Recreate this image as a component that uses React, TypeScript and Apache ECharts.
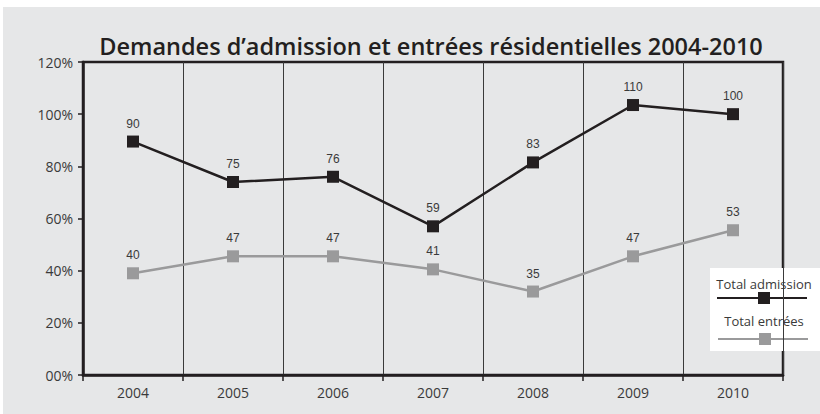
import React, { useEffect, useRef } from "react";
import * as echarts from "echarts";

const years = ["2004", "2005", "2006", "2007", "2008", "2009", "2010"];
const admissionPct = [89.5, 74, 76, 57, 81.5, 103.5, 100];
const admissionLabels = [90, 75, 76, 59, 83, 110, 100];
const entreesPct = [39, 45.5, 45.5, 40.5, 32, 45.5, 55.5];
const entreesLabels = [40, 47, 47, 41, 35, 47, 53];
const yTicks = [0, 20, 40, 60, 80, 100, 120];

const BLACK = "#231f20";
const GREY = "#9a9a9b";
const BG = "#e6e7e8";
const FONT = "'Open Sans', sans-serif";

export default function App() {
  const ref = useRef<HTMLDivElement>(null);
  useEffect(() => {
    if (!ref.current) return;
    const chart = echarts.init(ref.current, undefined, { renderer: "svg" });
    const labelStyle = {
      show: true,
      position: "top" as const,
      distance: 6,
      color: "#3a3a3a",
      fontSize: 12,
      fontFamily: "Liberation Sans, Arial, sans-serif",
    };
    chart.setOption({
      animation: false,
      backgroundColor: "#ffffff",
      title: {
        text: "Demandes d\u2019admission et entrées résidentielles 2004-2010",
        left: "426",
        textAlign: "center",
        top: 29,
        textStyle: {
          fontFamily: FONT,
          fontWeight: 600,
          fontSize: 23.5,
          color: BLACK,
        },
      },
      graphic: [
        {
          type: "rect",
          z: -10,
          silent: true,
          shape: { x: 3, y: 7, width: 817, height: 407 },
          style: { fill: BG },
        },
        {
          type: "group",
          z: 100,
          children: [
            { type: "rect", shape: { x: 710, y: 268, width: 110, height: 83 }, style: { fill: "#ffffff" } },
            {
              type: "text",
              x: 764,
              y: 284,
              style: { text: "Total admission", fill: "#3a3a3a", font: `13px ${FONT}`, align: "center", verticalAlign: "middle" },
            },
            { type: "line", shape: { x1: 717, y1: 298, x2: 807, y2: 298 }, style: { stroke: BLACK, lineWidth: 2 } },
            { type: "rect", shape: { x: 758, y: 292, width: 12, height: 12 }, style: { fill: BLACK } },
            {
              type: "text",
              x: 764,
              y: 321,
              style: { text: "Total entrées", fill: "#3a3a3a", font: `13px ${FONT}`, align: "center", verticalAlign: "middle" },
            },
            { type: "line", shape: { x1: 718, y1: 339, x2: 808, y2: 339 }, style: { stroke: GREY, lineWidth: 2 } },
            { type: "rect", shape: { x: 759, y: 333, width: 12, height: 12 }, style: { fill: GREY } },
          ],
        },
      ],
      grid: {
        left: 83,
        right: 37,
        top: 62,
        bottom: 39,
        show: true,
        borderColor: BLACK,
        borderWidth: 2.5,
        backgroundColor: "transparent",
      },
      xAxis: {
        type: "category",
        data: years,
        boundaryGap: true,
        axisLine: { lineStyle: { color: BLACK, width: 2.5 } },
        axisTick: { show: true, length: 6, lineStyle: { color: BLACK, width: 1.5 } },
        splitLine: { show: true, lineStyle: { color: "#3a3a3a", width: 1 } },
        axisLabel: {
          color: "#3a3a3a",
          fontSize: 14,
          fontFamily: FONT,
          margin: 10,
        },
      },
      yAxis: {
        type: "value",
        min: yTicks[0],
        max: yTicks[yTicks.length - 1],
        interval: 20,
        axisLine: { show: true, lineStyle: { color: BLACK, width: 2.5 } },
        axisTick: { show: true, length: 5, lineStyle: { color: BLACK, width: 1.5 } },
        splitLine: { show: false },
        axisLabel: {
          color: "#3a3a3a",
          fontSize: 14,
          fontFamily: FONT,
          margin: 10,
          formatter: (v: number) => (v < 10 ? "0" + v : String(v)) + "%",
        },
      },
      series: [
        {
          name: "Total admission",
          type: "line",
          data: admissionPct,
          symbol: "rect",
          symbolSize: 12,
          lineStyle: { color: BLACK, width: 2.5 },
          itemStyle: { color: BLACK },
          label: { ...labelStyle, formatter: (p: any) => String(admissionLabels[p.dataIndex]) },
          z: 5,
        },
        {
          name: "Total entrées",
          type: "line",
          data: entreesPct,
          symbol: "rect",
          symbolSize: 12,
          lineStyle: { color: GREY, width: 2.5 },
          itemStyle: { color: GREY },
          label: { ...labelStyle, formatter: (p: any) => String(entreesLabels[p.dataIndex]) },
          z: 4,
        },
      ],
    });
    return () => chart.dispose();
  }, []);
  return (
    <div
      ref={ref}
      style={{ position: "absolute", left: 0, top: 0, width: 820, height: 414 }}
    />
  );
}
